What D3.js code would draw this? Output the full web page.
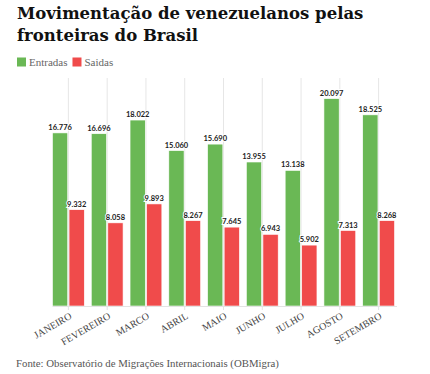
<!DOCTYPE html>
<html>
<head>
<meta charset="utf-8">
<script src="https://cdn.jsdelivr.net/npm/d3@7"></script>
<style>
    body { margin: 0; background: #fff; }
    .title { font-family: "DejaVu Serif", serif; font-weight: bold; fill: #111; }
    .legend-label, .source, .x-label { font-family: "Liberation Serif", serif; }
    .value { font-family: Lato, sans-serif; font-weight: 700; }
</style>
</head>
<body>
<div class="data_figure"></div>
<script>
const months = ["JANEIRO", "FEVEREIRO", "MARCO", "ABRIL", "MAIO", "JUNHO", "JULHO", "AGOSTO", "SETEMBRO"];
const entradas = [16776, 16696, 18022, 15060, 15690, 13955, 13138, 20097, 18525];
const saidas = [9332, 8058, 9893, 8267, 7645, 6943, 5902, 7313, 8268];
const seriesNames = ["Entradas", "Saidas"];

const width = 430;
const height = 374;

const entradaColor = "#6ab855",
        saidaColor = "#f04b4b";

const plot = {
    left: 49,
    right: 398,
    top: 79,
    bottom: 306,
}

const ptFormat = d3.formatLocale({ decimal: ",", thousands: ".", grouping: [3], currency: ["", ""] }).format(",");

const gData = months.map((m, i) => ({ month: m, values: [entradas[i], saidas[i]] }));

let svg = d3.select(".data_figure")
            .append("svg")
            .attr("width", width)
            .attr("height", height);

// title
svg.append("text")
    .attr("class", "title")
    .attr("x", 17)
    .attr("y", 18.5)
    .style("font-size", "16.5px")
    .text("Movimentação de venezuelanos pelas");
svg.append("text")
    .attr("class", "title")
    .attr("x", 17)
    .attr("y", 40.5)
    .style("font-size", "16.5px")
    .text("fronteiras do Brasil");

// legend
const colors = [entradaColor, saidaColor];
let legendX = 17;
seriesNames.forEach((name, i) => {
    svg.append("rect")
        .attr("x", legendX)
        .attr("y", 57.5)
        .attr("width", 9)
        .attr("height", 9)
        .attr("fill", colors[i]);
    const t = svg.append("text")
        .attr("class", "legend-label")
        .attr("x", legendX + 12)
        .attr("y", 66)
        .style("font-size", "11px")
        .attr("fill", "#666")
        .text(name);
    legendX += 12 + t.node().getComputedTextLength() + 5;
});

const xScale = d3.scaleBand()
        .domain(months)
        .range([plot.left, plot.right])
        .paddingInner(0.18)
        .paddingOuter(0.09);

const x1 = d3.scaleBand()
        .domain([0, 1])
        .range([0, xScale.bandwidth()])
        .paddingInner(0.08);

const yScale = d3.scaleLinear()
        .domain([0, 22000])
        .range([plot.bottom, plot.top]);

// vertical grid lines
svg.append("g")
    .selectAll("line")
    .data(months)
    .enter()
    .append("line")
    .attr("x1", (d) => xScale(d) + xScale.bandwidth() / 2)
    .attr("x2", (d) => xScale(d) + xScale.bandwidth() / 2)
    .attr("y1", plot.top - 1)
    .attr("y2", plot.bottom)
    .attr("stroke", "#e6e6e6")
    .attr("stroke-width", 1);

// bars
let groups = svg.selectAll(".group")
    .data(gData)
    .enter()
    .append("g")
    .attr("class", "group")
    .attr("transform", (d) => "translate(" + xScale(d.month) + ",0)");

groups.selectAll("rect")
    .data((d) => d.values)
    .enter()
    .append("rect")
    .attr("x", (d, i) => x1(i))
    .attr("y", (d) => yScale(d))
    .attr("width", x1.bandwidth())
    .attr("height", (d) => plot.bottom - yScale(d))
    .attr("fill", (d, i) => colors[i])
    .attr("stroke", "#fff")
    .attr("stroke-width", 0.6);

groups.selectAll(".value")
    .data((d) => d.values)
    .enter()
    .append("text")
    .attr("class", "value")
    .attr("x", (d, i) => x1(i) + x1.bandwidth() / 2)
    .attr("y", (d) => yScale(d) - 3)
    .attr("text-anchor", "middle")
    .style("font-size", "7.5px")
    .attr("fill", "#222")
    .attr("stroke", "#fff")
    .attr("stroke-width", 2)
    .attr("paint-order", "stroke")
    .text((d) => ptFormat(d));

// x axis
let xAxis = svg.append("g")
    .attr("transform", "translate(0," + plot.bottom + ")")
    .call(d3.axisBottom(xScale).tickSize(4).tickSizeOuter(0));
xAxis.select(".domain").attr("stroke", "#e3e3e3").attr("d", "M52.5,0.5H397");
xAxis.selectAll(".tick line").attr("stroke", "#e3e3e3");
xAxis.selectAll(".tick text")
    .attr("class", "x-label")
    .style("font-size", "10px")
    .attr("fill", "#444")
    .attr("text-anchor", "end")
    .attr("dy", null)
    .attr("y", 0)
    .attr("transform", "translate(4,12) rotate(-30)");

// source
svg.append("text")
    .attr("class", "source")
    .attr("x", 16)
    .attr("y", 367)
    .style("font-size", "10.8px")
    .attr("fill", "#555")
    .text("Fonte: Observatório de Migrações Internacionais (OBMigra)");
</script>
</body>
</html>
